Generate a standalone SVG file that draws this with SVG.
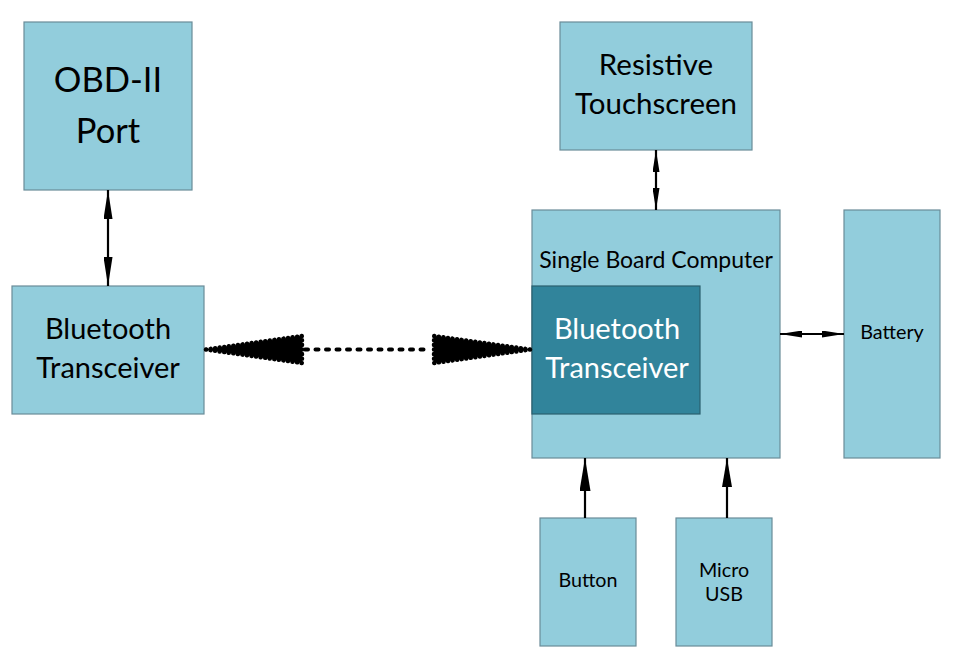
<svg xmlns="http://www.w3.org/2000/svg" width="956" height="660" viewBox="0 0 956 660">
<style>
.box{fill:#92CDDC;stroke:#6A8C98;stroke-width:1.2}
.inner{fill:#31849B;stroke:#2A5F6E;stroke-width:1.2}
.t{font-family:Lato,"Liberation Sans",sans-serif;fill:#000;text-anchor:middle}
.w{fill:#fff}
.ln{stroke:#000;stroke-width:2.2;fill:none}
.dot{stroke:#000;stroke-width:4;stroke-linecap:round;stroke-dasharray:3 7.5;fill:none}
.wedge{fill:#000;stroke:#000;stroke-width:4.5;stroke-linecap:round;stroke-linejoin:round;stroke-dasharray:0.1 4.5}
</style>
<defs>
<marker id="aL" markerUnits="userSpaceOnUse" viewBox="0 0 29 9" markerWidth="29" markerHeight="9" refX="29" refY="4.5" orient="auto-start-reverse"><path d="M0,0 L29,4.5 L0,9 z" fill="#000"/></marker>
<marker id="aS" markerUnits="userSpaceOnUse" viewBox="0 0 22 7" markerWidth="22" markerHeight="7" refX="22" refY="3.5" orient="auto-start-reverse"><path d="M0,0 L22,3.5 L0,7 z" fill="#000"/></marker>
<marker id="aB" markerUnits="userSpaceOnUse" viewBox="0 0 33 11" markerWidth="33" markerHeight="11" refX="33" refY="5.5" orient="auto-start-reverse"><path d="M0,0 L33,5.5 L0,11 z" fill="#000"/></marker>
<marker id="aM" markerUnits="userSpaceOnUse" viewBox="0 0 29 10" markerWidth="29" markerHeight="10" refX="29" refY="5" orient="auto-start-reverse"><path d="M0,0 L29,5 L0,10 z" fill="#000"/></marker>
</defs>
<rect width="956" height="660" fill="#fff"/>

<g id="obd">
<rect class="box" x="24" y="22" width="168" height="168"/>
<text class="t" x="108" y="92" font-size="34.5">OBD-II</text>
<text class="t" x="108" y="143" font-size="34.5">Port</text>
</g>

<g id="bt-left">
<rect class="box" x="12" y="286" width="192" height="128"/>
<text class="t" x="108" y="339" font-size="29">Bluetooth</text>
<text class="t" x="108" y="378" font-size="29">Transceiver</text>
</g>

<g id="touchscreen">
<rect class="box" x="560" y="22" width="192" height="128"/>
<text class="t" x="656" y="75" font-size="29.5">Resistive</text>
<text class="t" x="656" y="114" font-size="29.5">Touchscreen</text>
</g>

<g id="sbc">
<rect class="box" x="532" y="210" width="248" height="248"/>
<text class="t" x="656" y="268" font-size="23">Single Board Computer</text>
</g>

<g id="bt-right">
<rect class="inner" x="532" y="286" width="168" height="128"/>
<text class="t w" x="617" y="339" font-size="29">Bluetooth</text>
<text class="t w" x="617" y="378" font-size="29">Transceiver</text>
</g>

<g id="battery">
<rect class="box" x="844" y="210" width="96" height="248"/>
<text class="t" x="892" y="339" font-size="19.8">Battery</text>
</g>

<g id="button">
<rect class="box" x="540" y="518" width="96" height="128"/>
<text class="t" x="588" y="587" font-size="19.7">Button</text>
</g>

<g id="microusb">
<rect class="box" x="676" y="518" width="96" height="128"/>
<text class="t" x="724" y="577" font-size="19.7">Micro</text>
<text class="t" x="724" y="601" font-size="19.7">USB</text>
</g>

<g id="connectors">
<line class="ln" x1="108" y1="190" x2="108" y2="286" marker-start="url(#aL)" marker-end="url(#aL)"/>
<line class="ln" x1="656" y1="150" x2="656" y2="210" marker-start="url(#aS)" marker-end="url(#aS)"/>
<line class="ln" x1="780" y1="334" x2="844" y2="334" marker-start="url(#aS)" marker-end="url(#aS)"/>
<line class="ln" x1="585" y1="518" x2="585" y2="458" marker-end="url(#aB)"/>
<line class="ln" x1="727" y1="518" x2="727" y2="458" marker-end="url(#aM)"/>
<line class="dot" x1="305" y1="349.5" x2="431" y2="349.5"/>
<polygon class="wedge" points="206,349.5 302,336 302,363"/>
<polygon class="wedge" points="530,349.5 434,336 434,363"/>
</g>
</svg>
